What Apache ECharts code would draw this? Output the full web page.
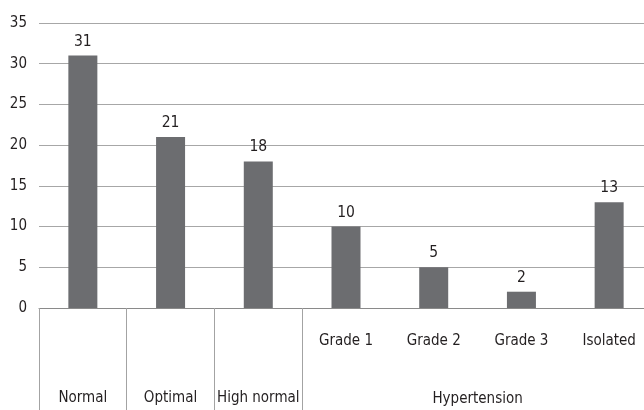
<!DOCTYPE html>
<html>
<head>
<meta charset="utf-8">
<style>
  html, body { margin: 0; padding: 0; background: #ffffff; overflow: hidden; }
  /* the plot runs a little past the right edge of the window */
  #chart { width: 653px; height: 410px; }
</style>
<script src="https://cdn.jsdelivr.net/npm/echarts@6/dist/echarts.min.js"></script>
</head>
<body>
<div id="chart"></div>
<script>
// Blood pressure categories and their counts
const categories = ['Normal', 'Optimal', 'High normal', 'Grade 1', 'Grade 2', 'Grade 3', 'Isolated'];
const values = [31, 21, 18, 10, 5, 2, 13];
// Categories that sit under the shared group heading
const groupMembers = ['Grade 1', 'Grade 2', 'Grade 3', 'Isolated'];
const groupName = 'Hypertension';
const yTicks = [0, 5, 10, 15, 20, 25, 30, 35];

const FONT = '"Liberation Sans Narrow", "DejaVu Sans Condensed", sans-serif';
const TEXT = '#231f20';

const firstGroupIndex = categories.indexOf(groupMembers[0]);
const groupCenter = firstGroupIndex + groupMembers.length / 2;

const chart = echarts.init(document.getElementById('chart'));
chart.setOption({
  animation: false,
  grid: { left: 39, right: 0, top: 23, bottom: 102, containLabel: false },
  xAxis: [
    {
      type: 'category',
      data: categories,
      position: 'bottom',
      axisLine: { show: true, lineStyle: { color: '#8a8a8a', width: 1 } },
      axisTick: {
        show: true,
        length: 102,
        interval: (i) => i <= firstGroupIndex,
        lineStyle: { color: '#a3a3a3', width: 1 }
      },
      axisLabel: {
        interval: 0,
        margin: 23,
        fontFamily: FONT,
        fontSize: 15,
        lineHeight: 19.3,
        color: TEXT,
        formatter: (v) => groupMembers.includes(v) ? v : '\n\n\n' + v
      },
      splitLine: { show: false }
    },
    {
      type: 'value',
      position: 'bottom',
      min: 0,
      max: categories.length,
      interval: 0.5,
      axisLine: { show: false },
      axisTick: { show: false },
      splitLine: { show: false },
      axisLabel: {
        showMinLabel: false,
        showMaxLabel: false,
        margin: 81,
        fontFamily: FONT,
        fontSize: 15,
        lineHeight: 19.3,
        color: TEXT,
        formatter: (v) => v === groupCenter ? groupName : ''
      }
    }
  ],
  yAxis: {
    type: 'value',
    min: yTicks[0],
    max: yTicks[yTicks.length - 1],
    interval: yTicks[1] - yTicks[0],
    axisLine: { show: false },
    axisTick: { show: false },
    axisLabel: {
      margin: 12,
      fontFamily: FONT,
      fontSize: 15,
      color: TEXT
    },
    splitLine: { show: true, lineStyle: { color: '#a7a7a7', width: 1 } }
  },
  series: [
    {
      type: 'bar',
      xAxisIndex: 0,
      data: values,
      barWidth: 29,
      itemStyle: { color: '#6c6d70' },
      label: {
        show: true,
        position: 'top',
        distance: 6,
        fontFamily: FONT,
        fontSize: 15.5,
        color: TEXT
      }
    }
  ]
});
</script>
</body>
</html>
